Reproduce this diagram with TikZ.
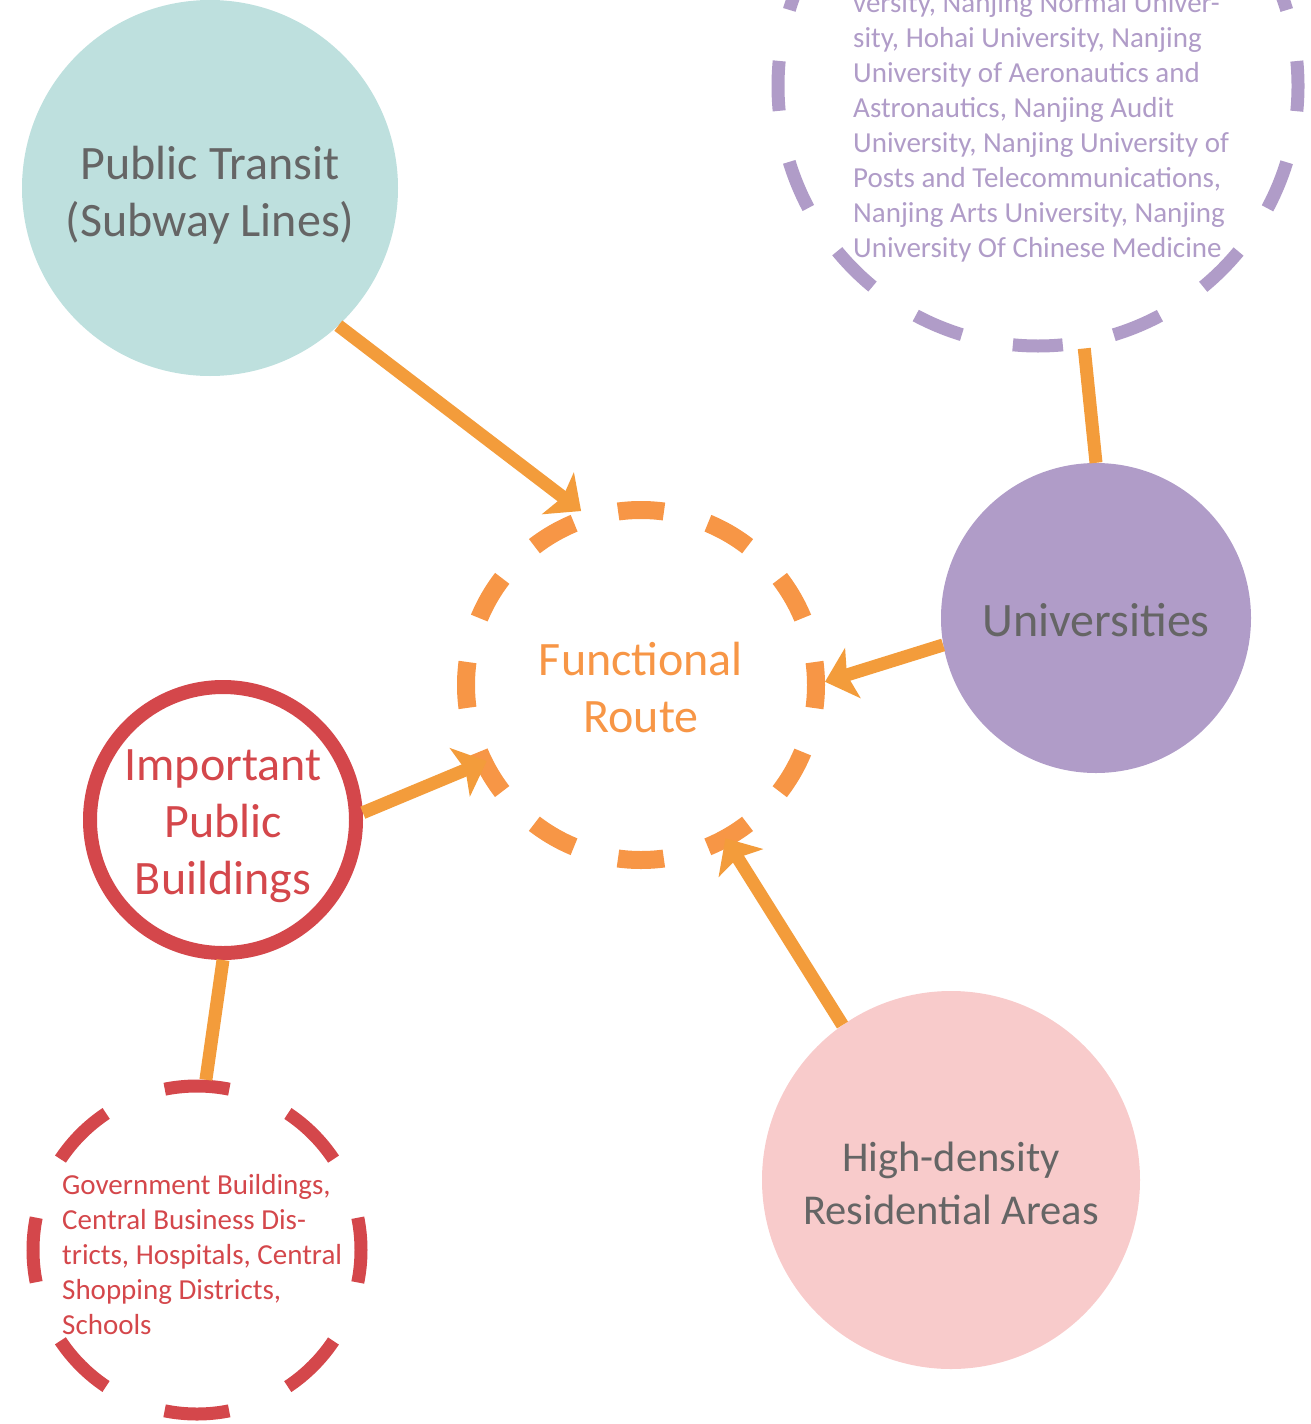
\documentclass[tikz,border=0pt]{standalone}
\usepackage{fontspec}
\setmainfont{Carlito}
\usetikzlibrary{arrows.meta}

\definecolor{transitfill}{HTML}{BEE0DE}
\definecolor{univfill}{HTML}{B09CC8}
\definecolor{resfill}{HTML}{F8CBCB}
\definecolor{routeorange}{HTML}{F79646}
\definecolor{arroworange}{HTML}{F39C3B}
\definecolor{bldred}{HTML}{D4474B}
\definecolor{labelgray}{HTML}{656565}

\begin{document}
\begin{tikzpicture}[x=1pt,y=-1pt,
  bigtext/.style={font=\fontsize{48}{57}\selectfont},
  smalltext/.style={font=\fontsize{29}{35}\selectfont},
  caption/.style={align=center, inner sep=0pt, text=labelgray, bigtext},
  hub/.style={circle, inner sep=0pt},
  ring/.style={circle, inner sep=0pt},
  link/.style={draw=arroworange, line width=13pt},
  feed/.style={link, -{Stealth[length=29pt,width=52pt,inset=6pt]}},
  listtext/.style={anchor=west, align=left, inner sep=0pt, smalltext}]
\useasboundingbox (0,0) rectangle (1310,1424);

% filled theme circles
\node[hub, fill=transitfill, minimum size=376pt,
      label={[caption, yshift=-7pt]center:{Public Transit\\(Subway Lines)}}] (pt) at (210,188) {};
\node[hub, fill=univfill, minimum size=310pt,
      label={[caption, yshift=-2pt]center:Universities}] (un) at (1096,618) {};
\node[hub, fill=resfill, minimum size=378pt,
      label={[caption, yshift=-3pt, font=\fontsize{42.5}{53}\selectfont]center:{High-density\\Residential Areas}}] (hd) at (951,1180) {};

% central dashed route
\node[ring, draw=routeorange, line width=18pt, dash pattern=on 46pt off 45.63pt, dash phase=23pt,
      minimum size=350pt,
      label={[caption, text=routeorange, yshift=-3pt]center:{Functional\\Route}}] (fr) at (641,685) {};

% public buildings
\node[ring, draw=bldred, line width=14pt, minimum size=266pt,
      label={[caption, text=bldred, yshift=-6pt]center:{Important\\Public\\Buildings}}] (ib) at (223,820) {};

% university list
\node[ring, draw=univfill, line width=13pt, dash pattern=on 50pt off 52.1pt, dash phase=25pt,
      minimum size=520pt] (uc) at (1038,86) {};
\node[listtext, text=univfill] (ucl) at (853,127) {versity, Nanjing Normal Univer-\\
sity, Hohai University, Nanjing\\
University of Aeronautics and\\
Astronautics, Nanjing Audit\\
University, Nanjing University of\\
Posts and Telecommunications,\\
Nanjing Arts University, Nanjing\\
University Of Chinese Medicine};

% building list
\node[ring, draw=bldred, line width=13pt, dash pattern=on 65pt off 63.8pt, dash phase=32.5pt,
      minimum size=328pt] (bl) at (197,1250) {};
\node[listtext, text=bldred] (bll) at (62,1255) {Government Buildings,\\
Central Business Dis-\\
tricts, Hospitals, Central\\
Shopping Districts,\\
Schools};

% connectors
\draw[link] (un.90) -- (uc.-80);
\draw[link] (ib.-90) -- (bl.87);
\draw[feed] (pt.-47) -- (fr.109);
\draw[feed] (un.190) -- (fr.1);
\draw[feed, shorten >=-12pt] (ib.3) -- (fr.206);
\draw[feed, shorten >=-9pt] (hd.125) -- (fr.-61);
\end{tikzpicture}
\end{document}
